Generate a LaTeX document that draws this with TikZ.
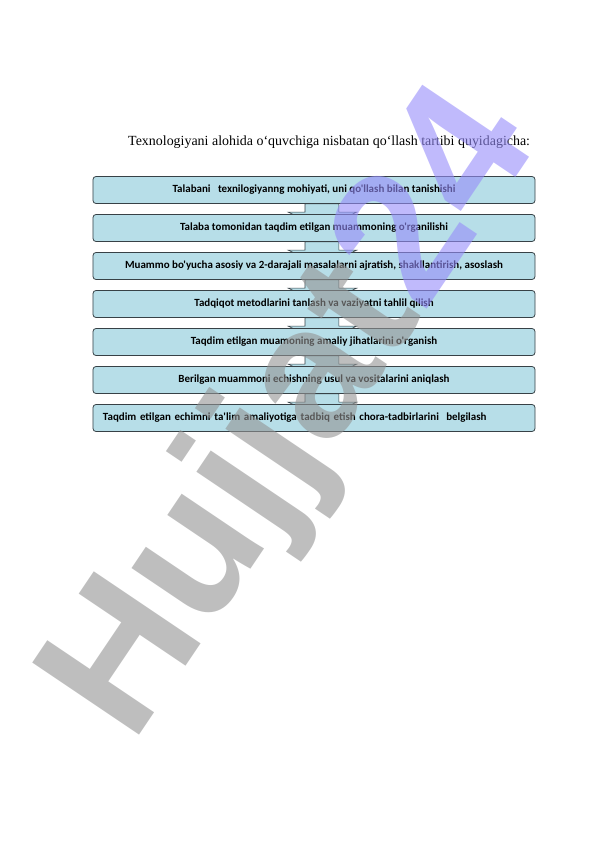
\documentclass[tikz,border=0pt]{standalone}
\usepackage{fontspec}
\setmainfont{Liberation Serif}
\newfontfamily\boxfont{Carlito}
\newfontfamily\markfont{Liberation Sans}
\definecolor{boxblue}{RGB}{183,222,232}
\definecolor{boxline}{RGB}{55,65,70}
\definecolor{markgrey}{RGB}{147,147,147}
\definecolor{markpurple}{RGB}{150,140,250}
\pgfdeclarelayer{background}
\pgfsetlayers{background,main}

\begin{document}
\begin{tikzpicture}[x=1bp, y=-1bp,
	box/.style={draw=boxline, line width=0.8pt, fill=boxblue, rounded corners=3pt,
		minimum width=442bp, minimum height=27bp, inner xsep=10bp, inner ysep=0pt,
		font=\boxfont\bfseries\fontsize{11}{13}\selectfont},
	downarr/.style={draw=boxline, line width=0.6pt, fill=boxblue}]

	\useasboundingbox (0,0) rectangle (596,842);

	\node (title) [anchor=base west, inner sep=0pt] at (128,145) {\fontsize{14}{16}\selectfont Texnologiyani alohida o‘quvchiga nisbatan qo‘llash tartibi quyidagicha:};

	\node (b1) [box] at (314,190) {Talabani \ \ texnilogiyanng mohiyati, uni qo'llash bilan tanishishi};
	\node (b2) [box] at (314,228) {Talaba tomonidan taqdim etilgan muammoning o'rganilishi};
	\node (b3) [box] at (314,266) {Muammo bo'yucha asosiy va 2-darajali masalalarni ajratish, shakllantirish, asoslash};
	\node (b4) [box] at (314,304) {Tadqiqot metodlarini tanlash va vaziyatni tahlil qilish};
	\node (b5) [box] at (314,342) {Taqdim etilgan muamoning amaliy jihatlarini o'rganish};
	\node (b6) [box] at (314,380) {Berilgan muammoni echishning usul va vositalarini aniqlash};
	\node (b7) [box, text width=422bp, align=left] at (314,418) {Taqdim etilgan echimni ta'lim amaliyotiga tadbiq etish chora-tadbirlarini \ belgilash};

	% block arrows, heads hidden under the next box
	\begin{pgfonlayer}{background}
		\draw[downarr] ([xshift=-9]b1.south) -- ([xshift=-9,yshift=2]b2.north) -- ([xshift=-26,yshift=2]b2.north) -- ([xshift=8,yshift=-14]b2.north) -- ([xshift=43,yshift=2]b2.north) -- ([xshift=25,yshift=2]b2.north) -- ([xshift=25]b1.south) -- cycle;
		\draw[downarr] ([xshift=-9]b2.south) -- ([xshift=-9,yshift=2]b3.north) -- ([xshift=-26,yshift=2]b3.north) -- ([xshift=8,yshift=-14]b3.north) -- ([xshift=43,yshift=2]b3.north) -- ([xshift=25,yshift=2]b3.north) -- ([xshift=25]b2.south) -- cycle;
		\draw[downarr] ([xshift=-9]b3.south) -- ([xshift=-9,yshift=2]b4.north) -- ([xshift=-26,yshift=2]b4.north) -- ([xshift=8,yshift=-14]b4.north) -- ([xshift=43,yshift=2]b4.north) -- ([xshift=25,yshift=2]b4.north) -- ([xshift=25]b3.south) -- cycle;
		\draw[downarr] ([xshift=-9]b4.south) -- ([xshift=-9,yshift=2]b5.north) -- ([xshift=-26,yshift=2]b5.north) -- ([xshift=8,yshift=-14]b5.north) -- ([xshift=43,yshift=2]b5.north) -- ([xshift=25,yshift=2]b5.north) -- ([xshift=25]b4.south) -- cycle;
		\draw[downarr] ([xshift=-9]b5.south) -- ([xshift=-9,yshift=2]b6.north) -- ([xshift=-26,yshift=2]b6.north) -- ([xshift=8,yshift=-14]b6.north) -- ([xshift=43,yshift=2]b6.north) -- ([xshift=25,yshift=2]b6.north) -- ([xshift=25]b5.south) -- cycle;
		\draw[downarr] ([xshift=-9]b6.south) -- ([xshift=-9,yshift=2]b7.north) -- ([xshift=-26,yshift=2]b7.north) -- ([xshift=8,yshift=-14]b7.north) -- ([xshift=43,yshift=2]b7.north) -- ([xshift=25,yshift=2]b7.north) -- ([xshift=25]b6.south) -- cycle;
	\end{pgfonlayer}

	% watermark
	\node (mark) [anchor=base west, rotate=56, inner sep=0pt, opacity=0.6,
		font=\markfont\bfseries\fontsize{188}{188}\selectfont] at (132,746) {\textcolor{markgrey}{Hujjat}\textcolor{markpurple}{24}};

\end{tikzpicture}
\end{document}
